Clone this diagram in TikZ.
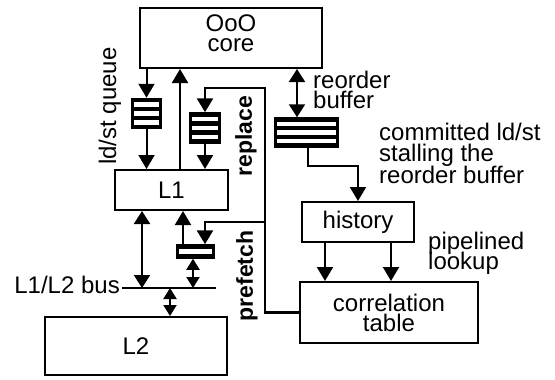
\documentclass[tikz,border=0pt]{standalone}
\usepackage{fontspec}
\setmainfont{Liberation Sans}
\usetikzlibrary{positioning,calc,arrows.meta}
\definecolor{ink}{HTML}{000000}
\definecolor{paper}{HTML}{FFFFFF}
\setlength{\lineskiplimit}{-40pt}
\tikzset{
  unit/.style={draw=ink,line width=2pt,inner sep=0pt,align=center},
  fifo/.style={draw=ink,fill=ink,line width=1.5pt,inner sep=0pt},
  label/.style={inner sep=0pt,align=left,text=ink},
  wire/.style={draw=ink,line width=2pt},
  flow/.style={wire,-{Triangle[width=16pt,length=14pt]}},
  twoway/.style={wire,{Triangle[width=16pt,length=13pt]}-{Triangle[width=16pt,length=13pt]}},
  shortway/.style={wire,{Triangle[width=13pt,length=11pt]}-{Triangle[width=13pt,length=11pt]}},
  rail/.style={flow,line width=2.6pt}
}

\begin{document}
\begin{tikzpicture}[x=1pt,y=-1pt,font=\fontsize{24}{20}\selectfont]
\path[use as bounding box,fill=paper] (0,0) rectangle (555,380);

\node[unit,minimum width=182pt,minimum height=60pt,text depth=10pt] (core) at (231,38) {OoO\\core};
\node[unit,minimum width=113pt,minimum height=40pt] (l1) at (171.5,190) {L1};
\node[unit,minimum width=182pt,minimum height=58pt] (l2) at (136,346) {L2};
\node[unit,minimum width=112pt,minimum height=40pt] (hist) at (358,222) {history};
\node[unit,minimum width=178pt,minimum height=61pt] (corr) at (389,312.5) {correlation\\table};

\node[fifo,minimum width=29pt,minimum height=30pt] (qls) at (146.5,113.5) {};
\node[fifo,minimum width=30pt,minimum height=30pt] (qrep) at (205,128) {};
\node[fifo,minimum width=63pt,minimum height=29pt] (qrob) at (306.5,132.5) {};
\node[fifo,minimum width=37pt,minimum height=13pt] (qpf) at (195.5,251.5) {};
\foreach \q/\n in {qls/3,qrep/3,qrob/3,qpf/1}
  \foreach \k in {1,...,\n}
    \fill[paper] ($(\q.south west)!{(2*\k-1)/(2*\n+1)}!(\q.north west)+(3pt,0)$) rectangle ($(\q.south east)!{(2*\k)/(2*\n+1)}!(\q.north east)+(-3pt,0)$);

\coordinate (rail) at (265,88);
\coordinate (tap) at (265,222);
\coordinate (busw) at (122,288);
\coordinate (buse) at (216,288);

\draw[flow] (core.south -| qls) -- (qls.north);
\draw[flow] (qls.south) -- (qls.south |- l1.north);
\draw[flow] ([xshift=8.5pt]l1.north) -- ([xshift=8.5pt]l1.north |- core.south);
\draw[flow] (qrep.south) -- (qrep.south |- l1.north);
\draw[rail] (corr.west) -| (rail) -| (qrep.north);
\draw[rail] (tap) -| ([xshift=9.5pt]qpf.north);
\draw[wire] (busw) -- (buse);
\draw[twoway] ([xshift=-29.5pt]l1.south) -- ([xshift=-29.5pt]l1.south |- busw);
\draw[flow] ([xshift=-12.5pt]qpf.north) -- ([xshift=-12.5pt]qpf.north |- l1.south);
\draw[shortway] ([xshift=-2.5pt]qpf.south) -- ([xshift=-2.5pt]qpf.south |- busw);
\draw[shortway] ([xshift=34pt]l2.north) -- ([xshift=34pt]l2.north |- busw);
\draw[twoway] ([xshift=-9.5pt]qrob.north) -- ([xshift=-9.5pt]qrob.north |- core.south);
\draw[flow] ([xshift=1.5pt]qrob.south) -- ++(0,18) -| (hist.north);
\draw[flow] ([xshift=-33pt]hist.south) -- ([xshift=-33pt]hist.south |- corr.north);
\draw[flow] ([xshift=33pt]hist.south) -- ([xshift=33pt]hist.south |- corr.north);

\node[label,rotate=90] (lsqtxt) at (110,106) {ld/st queue};
\node[label,rotate=90,font=\fontsize{23}{20}\selectfont\bfseries] (reptxt) at (246,136) {replace};
\node[label,rotate=90,font=\fontsize{23}{20}\selectfont\bfseries] (pftxt) at (247,276) {prefetch};
\node[label,anchor=west] (robtxt) at (313,89.5) {reorder\\buffer};
\node[label,anchor=west,font=\fontsize{24}{21.5}\selectfont] (stalltxt) at (379,153) {committed ld/st\\stalling the\\reorder buffer};
\node[label,anchor=west] (looktxt) at (428,253) {pipelined\\lookup};
\node[label,anchor=base east] (bustxt) at (120,293) {L1/L2 bus};
\end{tikzpicture}
\end{document}
